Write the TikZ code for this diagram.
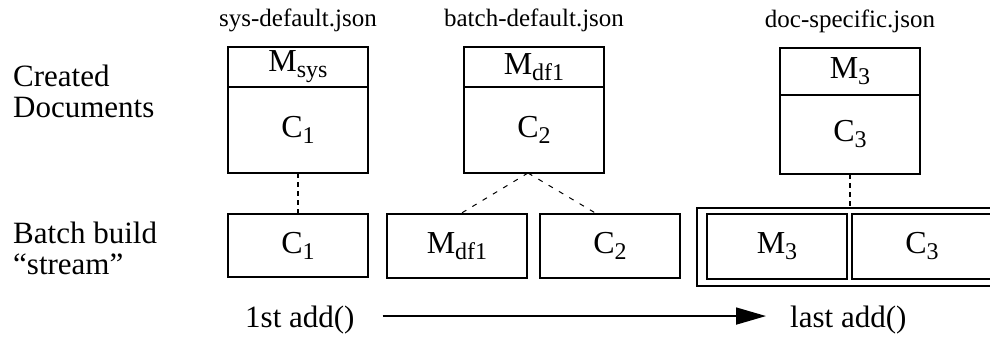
\documentclass[tikz,border=0pt]{standalone}
\usepackage{fontspec}
\setmainfont{Liberation Serif}
\usetikzlibrary{positioning,fit,arrows.meta}

\newcommand\subtxt[1]{\raisebox{-6pt}{\fontsize{24}{24}\selectfont #1}}

\tikzset{
  part/.style={draw,line width=2pt,minimum width=140pt,inner sep=0pt,outer sep=0pt,
    font=\fontsize{32}{32}\selectfont},
  label/.style={inner sep=0pt,font=\fontsize{31}{31}\selectfont},
  file/.style={inner sep=0pt,anchor=base,font=\fontsize{25}{25}\selectfont},
  link/.style={line width=2pt,dash pattern=on 5pt off 4pt},
  split/.style={line width=1pt,dash pattern=on 5pt off 7pt}
}

\begin{document}
\begin{tikzpicture}[x=1pt,y=-1pt]
  \clip (0,0) rectangle (990,337);

  \node[label,anchor=north west,align=left] (created) at (13,65) {Created\\Documents};
  \node[label,anchor=north west,align=left] (batch) at (13,222) {Batch build\\``stream''};

  \node[file] (sysfile) at (298,27) {sys-default.json};
  \node[file] (batchfile) at (534,27) {batch-default.json};
  \node[file] (docfile) at (850,28) {doc-specific.json};

  \node[part,minimum height=40pt] (sysM) at (298,67) {M\subtxt{sys}};
  \node[part,minimum height=86pt,below=0pt of sysM] (sysC) {C\subtxt{1}};
  \node[part,minimum height=40pt] (batchM) at (534,67) {M\subtxt{df1}};
  \node[part,minimum height=86pt,below=0pt of batchM] (batchC) {C\subtxt{2}};
  \node[part,minimum height=47pt] (docM) at (850,71.5) {M\subtxt{3}};
  \node[part,minimum height=79pt,below=0pt of docM] (docC) {C\subtxt{3}};

  \node[part,minimum height=63pt] (c1b) at (298,245.5) {C\subtxt{1}};
  \node[part,minimum height=64pt] (mdfb) at (457,246) {M\subtxt{df1}};
  \node[part,minimum height=64pt] (c2b) at (610,246) {C\subtxt{2}};
  \node[part,minimum height=65pt] (m3b) at (777,246.5) {M\subtxt{3}};
  \node[part,minimum height=65pt] (c3b) at (922,246.5) {C\subtxt{3}};
  \node[draw,line width=2pt,outer sep=0pt,fit=(m3b)(c3b),inner xsep=10pt,inner ysep=6.5pt] (stream) {};

  \draw[link] (sysC.south) -- (c1b.north);
  \draw[link] (docC.south) -- (docC.south |- stream.north);
  \draw[split] ([xshift=-6pt]batchC.south) -- ([xshift=3pt]mdfb.north);
  \draw[split] ([xshift=-6pt]batchC.south) -- ([xshift=-13pt]c2b.north);

  \node[label,anchor=base west] (first) at (245,327) {1st add()};
  \node[label,anchor=base west] (last) at (790,327) {last add()};
  \draw[line width=1.7pt,-{Triangle[length=30pt,width=17pt]}]
    ([shift={(28pt,3.5pt)}]first.east) -- ([shift={(-24pt,3.5pt)}]last.west);
\end{tikzpicture}
\end{document}
